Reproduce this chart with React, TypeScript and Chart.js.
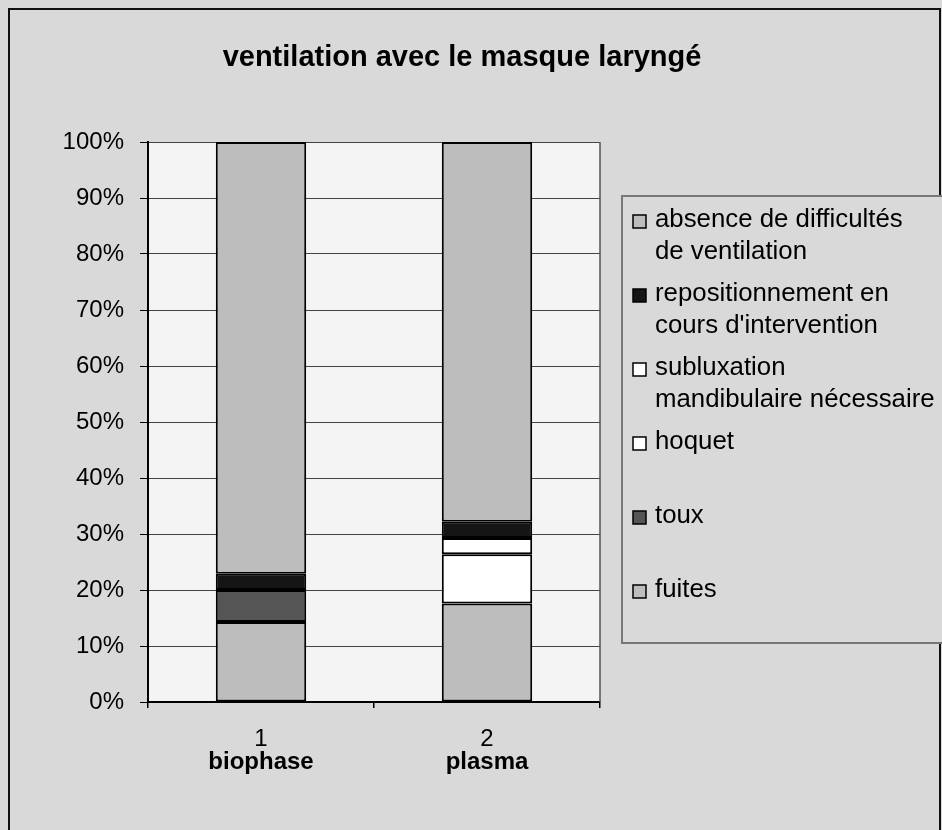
import React, { useEffect, useRef } from "react";
import { Chart, registerables } from "chart.js";

Chart.register(...registerables);

const categories = ["1", "2"];
const groupNames = ["biophase", "plasma"];

// stacked from bottom to top
const fuites = [14.3, 17.6];
const toux = [5.7, null];
const hoquet = [null, 8.8];
const subluxation = [null, 2.9];
const repositionnement = [2.9, 2.9];
const absence = [77.1, 67.8];

const seriesLines = {
  fuites: ["fuites"],
  toux: ["toux"],
  hoquet: ["hoquet"],
  subluxation: ["subluxation", "mandibulaire nécessaire"],
  repositionnement: ["repositionnement en", "cours d'intervention"],
  absence: ["absence de difficultés", "de ventilation"],
};

const titleText = "ventilation avec le masque laryngé";
const yTickValues = [0, 10, 20, 30, 40, 50, 60, 70, 80, 90, 100];

const FONT = "'Liberation Sans', Arial, Helvetica, sans-serif";

const decorPlugin = {
  id: "decor",
  beforeDraw(chart: any) {
    const { ctx, chartArea, width, height } = chart;
    ctx.save();
    ctx.fillStyle = "#d9d9d9";
    ctx.fillRect(0, 0, width, height);
    // frame
    ctx.strokeStyle = "#111";
    ctx.lineWidth = 2;
    ctx.strokeRect(9, 9, width - 11, height);
    // plot area
    ctx.fillStyle = "#f4f4f4";
    ctx.fillRect(chartArea.left, chartArea.top, chartArea.right - chartArea.left, chartArea.bottom - chartArea.top);
    ctx.restore();
  },
  beforeDatasetsDraw(chart: any) {
    const { ctx, chartArea } = chart;
    ctx.save();
    ctx.strokeStyle = "#555";
    ctx.lineWidth = 1.5;
    ctx.beginPath();
    ctx.moveTo(chartArea.right, chartArea.top);
    ctx.lineTo(chartArea.right, chartArea.bottom);
    ctx.stroke();
    ctx.restore();
  },
  afterDraw(chart: any) {
    const { ctx } = chart;
    ctx.save();
    // title
    ctx.fillStyle = "#000";
    ctx.font = `bold 29px ${FONT}`;
    ctx.textAlign = "center";
    ctx.textBaseline = "alphabetic";
    ctx.fillText(titleText, 462, 66);

    // group names under categories
    const xs = chart.scales.x;
    ctx.font = `bold 24px ${FONT}`;
    groupNames.forEach((g, i) => {
      ctx.fillText(g, xs.getPixelForValue(i), 769);
    });

    // legend box
    const lx = 622, ly = 196, lw = 330, lh = 447;
    ctx.fillStyle = "#d9d9d9";
    ctx.fillRect(lx, ly, lw, lh);
    ctx.strokeStyle = "#777";
    ctx.lineWidth = 2;
    ctx.strokeRect(lx, ly, lw, lh);

    const ds = chart.data.datasets.slice().reverse();
    ctx.textAlign = "left";
    ctx.font = `25.8px ${FONT}`;
    let y = 227;
    ds.forEach((d: any) => {
      const lines: string[] = d.lines;
      ctx.fillStyle = d.backgroundColor;
      ctx.fillRect(633, y - 12, 13, 13);
      ctx.strokeStyle = "#000";
      ctx.lineWidth = 1.5;
      ctx.strokeRect(633, y - 12, 13, 13);
      ctx.fillStyle = "#000";
      lines.forEach((t, k) => ctx.fillText(t, 655, y + k * 31.5));
      y += 74;
    });
    ctx.restore();
  },
};

export default function App() {
  const ref = useRef<HTMLCanvasElement | null>(null);
  useEffect(() => {
    if (!ref.current) return;
    const mk = (key: string, data: any[], color: string) => ({
      label: (seriesLines as any)[key].join(" "),
      lines: (seriesLines as any)[key],
      data,
      backgroundColor: color,
      borderColor: "#000",
      borderWidth: 2,
      borderSkipped: false,
      categoryPercentage: 1,
      barPercentage: 0.4,
    });
    const chart = new Chart(ref.current, {
      type: "bar",
      data: {
        labels: categories,
        datasets: [
          mk("fuites", fuites, "#bdbdbd"),
          mk("toux", toux, "#555555"),
          mk("hoquet", hoquet, "#ffffff"),
          mk("subluxation", subluxation, "#ffffff"),
          mk("repositionnement", repositionnement, "#151515"),
          mk("absence", absence, "#bdbdbd"),
        ] as any,
      },
      options: {
        animation: false,
        responsive: false,
        devicePixelRatio: 1,
        layout: { padding: { left: 0, top: 142, right: 342, bottom: 0 } },
        plugins: {
          legend: { display: false },
          title: { display: false },
          tooltip: { enabled: false },
        },
        scales: {
          x: {
            stacked: true,
            grid: { display: true, drawOnChartArea: false, drawTicks: true, tickLength: 6, color: "#000", lineWidth: 1.5, offset: true },
            border: { display: true, color: "#000", width: 2 },
            ticks: { color: "#000", font: { family: FONT, size: 24 }, padding: 17 },
            afterFit: (s: any) => { s.height = 128; },
          },
          y: {
            stacked: true,
            min: 0,
            max: 100,
            afterBuildTicks: (s: any) => { s.ticks = yTickValues.map((v) => ({ value: v })); },
            grid: { color: "#444", lineWidth: 1, tickLength: 8, tickColor: "#000" },
            border: { display: true, color: "#000", width: 2 },
            ticks: { color: "#000", font: { family: FONT, size: 24 }, padding: 16, callback: (v: any) => `${v}%` },
            afterFit: (s: any) => { s.width = 148; },
          },
        },
      } as any,
      plugins: [decorPlugin],
    });
    return () => chart.destroy();
  }, []);
  return (
    <div style={{ position: "absolute", left: 0, top: 0, width: 942, height: 830 }}>
      <canvas ref={ref} width={942} height={830} style={{ display: "block", width: 942, height: 830 }} />
    </div>
  );
}
